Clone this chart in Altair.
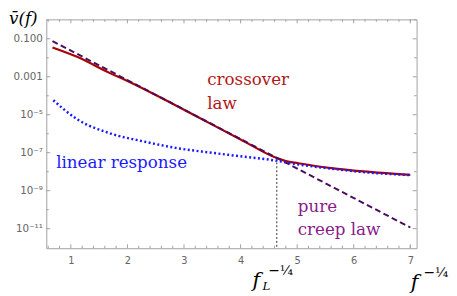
import altair as alt
import pandas as pd

# ---- data ----
# crossover law (red, solid)
red_x = [0.675, 1.11, 1.69, 2.0, 2.79, 3.5, 4.0, 4.64, 4.8, 5.02, 5.6, 6.17, 7.0]
red_v = [3.5e-2, 1.12e-2, 1.55e-3, 6.0e-4, 3.9e-5, 3.0e-6, 5.0e-7, 5.2e-8, 3.6e-8, 2.8e-8, 1.55e-8, 1.03e-8, 6.8e-9]
# pure creep law (purple, dashed)
creep_x = [0.675, 7.0]
creep_v = [7.6e-2, 1.15e-11]
# linear response (blue, dotted)
lin_x = [0.69, 1.11, 1.69, 2.27, 2.85, 3.42, 4.0, 4.58, 5.02, 5.6, 6.17, 7.0]
lin_v = [5.8e-5, 5.8e-6, 1.05e-6, 4.0e-7, 1.8e-7, 1.05e-7, 6.5e-8, 4.0e-8, 2.4e-8, 1.45e-8, 9.5e-9, 6.6e-9]
# crossover position f_L^{-1/4}
fl_x = [4.64]
fl_v = [5.0e-8]

# ticks
x_major = [1, 2, 3, 4, 5, 6, 7]
x_minor = [0.6, 0.8, 1.2, 1.4, 1.6, 1.8, 2.2, 2.4, 2.6, 2.8, 3.2, 3.4, 3.6, 3.8,
           4.2, 4.4, 4.6, 4.8, 5.2, 5.4, 5.6, 5.8, 6.2, 6.4, 6.6, 6.8, 7.0]
y_major = [1e-1, 1e-3, 1e-5, 1e-7, 1e-9, 1e-11]
y_major_labels = ["0.100", "0.001", "10⁻⁵", "10⁻⁷", "10⁻⁹", "10⁻¹¹"]
y_minor = [1e0, 1e-2, 1e-4, 1e-6, 1e-8, 1e-10]

W, H = 377, 233
GRAY = "#a0a0a0"

xs = alt.Scale(domain=[0.566, 7.111], nice=False, zero=False)
ys = alt.Scale(type="log", domain=[9.3e-13, 1.05], nice=False)

red_df = pd.DataFrame({"x": red_x, "v": red_v})
creep_df = pd.DataFrame({"x": creep_x, "v": creep_v})
lin_df = pd.DataFrame({"x": lin_x, "v": lin_v})
fl_df = pd.DataFrame({"x": fl_x, "v": fl_v})

label_arr = "[" + ",".join("'" + s + "'" for s in y_major_labels) + "]"


def X(field):
    return alt.X(field, scale=xs, title=None)


def Y(field):
    return alt.Y(field, scale=ys, title=None)


red = alt.Chart(red_df).mark_line(color="#aa0000", strokeWidth=2.2, interpolate="monotone").encode(
    x=alt.X("x:Q", scale=xs, title=None,
            axis=alt.Axis(values=x_major, format="d", tickSize=0, domain=False, grid=False,
                          labelPadding=8, labelFont="DejaVu Sans", labelFontSize=10,
                          labelColor="#666666")),
    y=alt.Y("v:Q", scale=ys, title=None,
            axis=alt.Axis(values=y_major, tickSize=0, domain=False, grid=False, labelPadding=4,
                          labelFont="DejaVu Sans", labelFontSize=10.5, labelColor="#666666",
                          labelExpr=label_arr + "[round((-1 - log(datum.value)/LN10)/2)]")),
)

creep = alt.Chart(creep_df).mark_line(color="#4b0c5e", strokeWidth=2, strokeDash=[6, 3.5]).encode(
    x=X("x:Q"), y=Y("v:Q"))

lin = alt.Chart(lin_df).mark_line(color="#1a1aff", strokeWidth=2.5, strokeDash=[2, 2.5],
                                  interpolate="monotone").encode(x=X("x:Q"), y=Y("v:Q"))

vline = alt.Chart(fl_df).mark_rule(color="#333333", strokeWidth=1, strokeDash=[2, 2]).encode(
    x=X("x:Q"), y=Y("v:Q"), y2=alt.value(H))


# frame ticks
def xticks(vals, length):
    d = pd.DataFrame({"x": vals})
    b = alt.Chart(d).mark_rule(color=GRAY, strokeWidth=1).encode(
        x=X("x:Q"), y=alt.value(H), y2=alt.value(H - length))
    t = alt.Chart(d).mark_rule(color=GRAY, strokeWidth=1).encode(
        x=X("x:Q"), y=alt.value(0), y2=alt.value(length))
    return [b, t]


def yticks(vals, length):
    d = pd.DataFrame({"v": vals})
    l = alt.Chart(d).mark_rule(color=GRAY, strokeWidth=1).encode(
        y=Y("v:Q"), x=alt.value(0), x2=alt.value(length))
    r = alt.Chart(d).mark_rule(color=GRAY, strokeWidth=1).encode(
        y=Y("v:Q"), x=alt.value(W), x2=alt.value(W - length))
    return [l, r]


tick_layers = xticks(x_major, 4) + xticks(x_minor, 2.5) + yticks(y_major, 4) + yticks(y_minor, 2.5)

# annotations (anchored in data coordinates)
ann = pd.DataFrame({
    "x": [3.41, 3.41, 0.74, 5.01, 5.01],
    "v": [3.5e-4, 2.0e-5, 1.66e-8, 7.9e-11, 4.6e-12],
    "text": ["crossover", "law", "linear response", "pure", "creep law"],
    "c": ["#b01818", "#b01818", "#1a1aff", "#8a1a8a", "#8a1a8a"],
})
ann_layer = alt.Chart(ann).mark_text(align="left", baseline="alphabetic", font="DejaVu Serif",
                                     fontSize=17).encode(
    x=X("x:Q"), y=Y("v:Q"), text="text:N", color=alt.Color("c:N", scale=None))


def sym(txt, xv, yv, size, italic=True):
    m = alt.Chart(pd.DataFrame({"t": [txt]})).mark_text(
        align="left", baseline="alphabetic", font="DejaVu Serif",
        fontStyle="italic" if italic else "normal", fontSize=size, color="black")
    return m.encode(x=alt.value(xv), y=alt.value(yv), text="t:N")


ytitle = sym("v\u0304(f)", -38, 5, 17)
xt_f = sym("f", 371, 274, 21)
xt_sup = sym("−¼", 384, 262, 14, italic=False)
fl_f = sym("f", 210, 272, 21)
fl_L = sym("L", 220, 276, 12)
fl_sup = sym("−¼", 226, 260, 14, italic=False)

chart = alt.layer(red, *tick_layers, vline, creep, lin, ann_layer, ytitle,
                  xt_f, xt_sup, fl_f, fl_L, fl_sup).properties(
    width=W, height=H,
    autosize=alt.AutoSizeParams(type="none"),
    padding={"left": 39, "top": 9, "right": 33, "bottom": 44},
).configure_view(stroke=GRAY, strokeWidth=1)

chart.save("out.html", embed_options={"renderer": "svg", "actions": False})
